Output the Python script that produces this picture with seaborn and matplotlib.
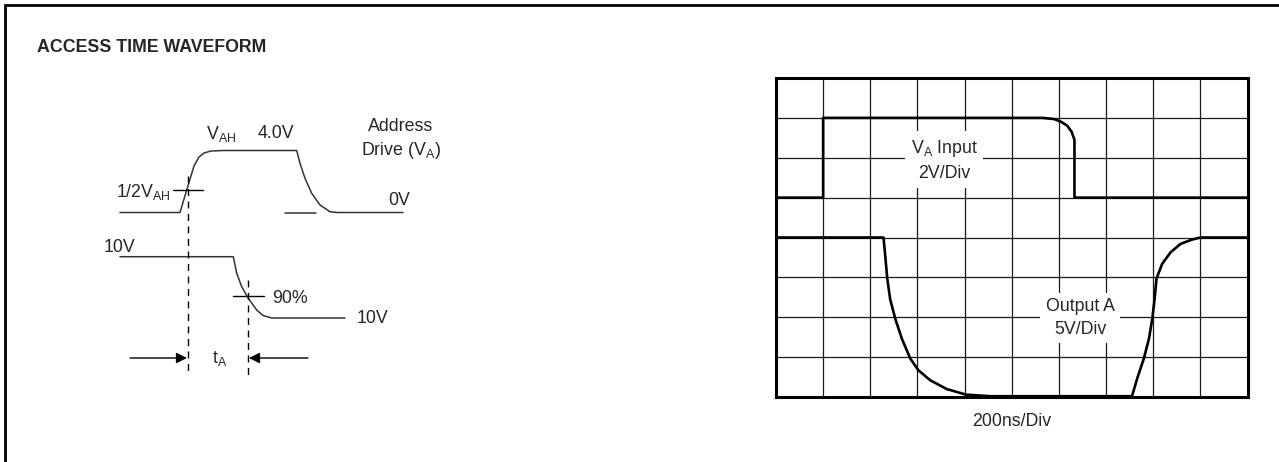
import numpy as np
import seaborn as sns
import matplotlib.pyplot as plt

# --- data ---
# scope traces, in grid divisions (x: 0..10 at 200ns/div, y: 0..8 divisions)
va_x = [0, 1, 1, 5.65, 5.9, 6.05, 6.18, 6.27, 6.33, 6.33, 10]
va_y = [5, 5, 7, 7, 6.97, 6.9, 6.8, 6.65, 6.45, 5, 5]

out_x = [0, 2.28, 2.31, 2.36, 2.42, 2.53, 2.67, 2.85, 3.02, 3.27, 3.62, 4.03, 4.54,
         7.55, 7.66, 7.80, 7.91, 7.98, 8.03, 8.07, 8.19, 8.37, 8.58, 8.83, 9.0, 10]
out_y = [4, 4, 3.63, 2.97, 2.46, 1.96, 1.46, 0.96, 0.67, 0.42, 0.20, 0.06, 0.02,
         0.02, 0.46, 0.96, 1.46, 1.96, 2.46, 2.97, 3.34, 3.63, 3.84, 3.95, 4, 4]

# timing sketch on the left (page pixels)
addr_x = [120, 180, 186.7, 194, 199, 204, 211, 223.3, 296.7, 300, 305, 311.7, 320, 330, 336.7, 403]
addr_y = [212.5, 212.5, 190, 166, 157, 153, 151, 150.5, 150.5, 163.3, 178.3, 193.3, 205, 211.7, 212.5, 212.5]
resp_x = [120, 233.3, 236.7, 241.7, 248.3, 256.7, 263, 271.7, 345]
resp_y = [256.7, 256.7, 273.3, 286.7, 298.3, 310, 315.5, 318, 318]
mark_dash_x = [187.5, 248.3]
mark_dash_top = [176, 280]
dash_bottom = 376

sns.set_style('white')
plt.rcParams['font.family'] = ['Liberation Sans', 'DejaVu Sans']
plt.rcParams['mathtext.fontset'] = 'custom'
plt.rcParams['mathtext.rm'] = 'Liberation Sans'
plt.rcParams['mathtext.it'] = 'Liberation Sans:italic'
plt.rcParams['mathtext.bf'] = 'Liberation Sans:bold'

W, H = 1279, 462
fig = plt.figure(figsize=(W / 100, H / 100), dpi=100)
fs = 12.8
ink = '#333333'

# page layer
bg = fig.add_axes([0, 0, 1, 1])
bg.set_xlim(0, W)
bg.set_ylim(H, 0)
bg.axis('off')
bg.plot([4.5, 4.5, W], [H, 4.5, 4.5], color='black', lw=2.0, solid_joinstyle='miter')
bg.text(37, 48, 'ACCESS TIME WAVEFORM', fontsize=fs, fontweight='bold', ha='left', va='center')

# left timing sketch
sns.lineplot(x=addr_x, y=addr_y, ax=bg, sort=False, estimator=None, color=ink, lw=1.1)
sns.lineplot(x=resp_x, y=resp_y, ax=bg, sort=False, estimator=None, color=ink, lw=1.1)
bg.plot([285, 316], [212.5, 212.5], color=ink, lw=1.1)
bg.plot([172.7, 202.7], [190, 190], color='black', lw=1.0)
bg.plot([233.3, 264], [296, 296], color='black', lw=1.0)
for x, top in zip(mark_dash_x, mark_dash_top):
    bg.plot([x, x], [top, dash_bottom], color='black', lw=1.0, dashes=(5, 4))
bg.annotate('', xy=(187, 358), xytext=(130, 358),
            arrowprops=dict(arrowstyle='-|>', color='black', lw=1.0, mutation_scale=16,
                            shrinkA=0, shrinkB=0))
bg.annotate('', xy=(249, 358), xytext=(308, 358),
            arrowprops=dict(arrowstyle='-|>', color='black', lw=1.0, mutation_scale=16,
                            shrinkA=0, shrinkB=0))

bg.text(206, 138.5, r'$\mathrm{V_{AH}}$', fontsize=fs, ha='left', va='baseline')
bg.text(258, 138.5, '4.0V', fontsize=fs, ha='left', va='baseline')
bg.text(401, 130.7, 'Address', fontsize=fs, ha='center', va='baseline')
bg.text(401, 155, r'Drive ($\mathrm{V_A}$)', fontsize=fs, ha='center', va='baseline')
bg.text(171, 196.7, r'$\mathrm{1/2V_{AH}}$', fontsize=fs, ha='right', va='baseline')
bg.text(388, 205, '0V', fontsize=fs, ha='left', va='baseline')
bg.text(103.5, 251.7, '10V', fontsize=fs, ha='left', va='baseline')
bg.text(271.7, 303.3, '90%', fontsize=fs, ha='left', va='baseline')
bg.text(356.7, 323.3, '10V', fontsize=fs, ha='left', va='baseline')
bg.text(211.5, 363.3, r'$\mathrm{t_A}$', fontsize=fs, ha='left', va='baseline')
bg.text(1011.7, 421, '200ns/Div', fontsize=fs, ha='center', va='center')

# oscilloscope screen
left, right, top, bottom = 776, 1247.5, 78, 397
ax = fig.add_axes([left / W, (H - bottom) / H, (right - left) / W, (bottom - top) / H])
ax.set_xlim(0, 10)
ax.set_ylim(0, 8)
ax.set_xticks(np.arange(0, 11))
ax.set_yticks(np.arange(0, 9))
ax.tick_params(length=0, labelbottom=False, labelleft=False)
ax.set_axisbelow(True)
ax.grid(True, color='#1a1a1a', lw=0.9)
for s in ax.spines.values():
    s.set_visible(True)
    s.set_color('black')
    s.set_linewidth(2.2)

sns.lineplot(x=va_x, y=va_y, ax=ax, sort=False, estimator=None, color='black', lw=1.9)
sns.lineplot(x=out_x, y=out_y, ax=ax, sort=False, estimator=None, color='black', lw=1.9)

box = dict(facecolor='white', edgecolor='none', pad=4)
ax.text(3.57, 5.94, '$\\mathrm{V_A}$ Input\n2V/Div', fontsize=fs, ha='center', va='center',
        linespacing=1.45, bbox=box, zorder=3)
ax.text(6.45, 1.98, 'Output A\n5V/Div', fontsize=fs, ha='center', va='center',
        linespacing=1.45, bbox=box, zorder=3)

fig.savefig('out.png', dpi=100)
